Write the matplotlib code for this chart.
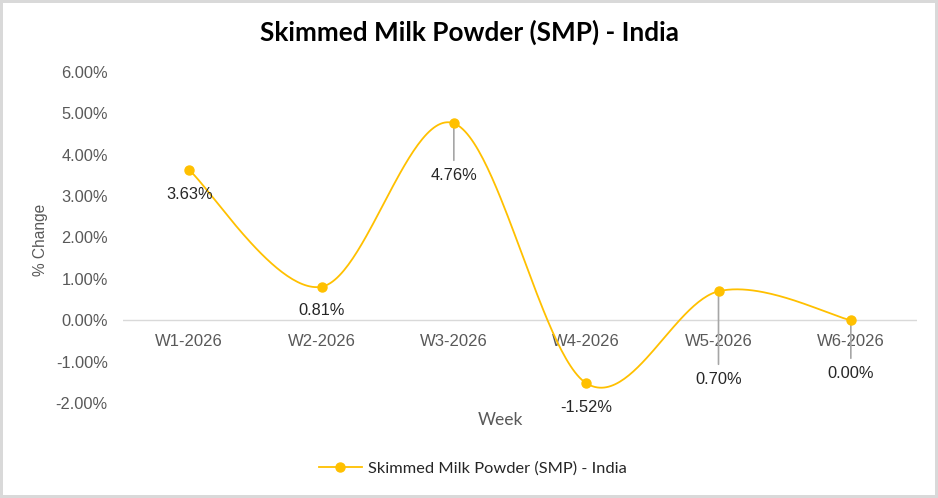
import numpy as np
import matplotlib
matplotlib.use("Agg")
import matplotlib.pyplot as plt
from matplotlib.ticker import FuncFormatter

weeks = ["W1-2026", "W2-2026", "W3-2026", "W4-2026", "W5-2026", "W6-2026"]
change = [3.63, 0.81, 4.76, -1.52, 0.70, 0.00]
series_name = "Skimmed Milk Powder (SMP) - India"
# label offsets below each point (pixels) and whether a leader line is drawn
label_drop = [24, 24, 52, 24, 88, 53]
leader = [False, False, True, False, True, True]

GOLD = "#FFC000"
GRAY = "#595959"


def smooth(x, y, n=60):
    # Catmull-Rom bezier, like Excel's smoothed line
    x = np.asarray(x, float)
    y = np.asarray(y, float)
    px = np.concatenate(([x[0]], x, [x[-1]]))
    py = np.concatenate(([y[0]], y, [y[-1]]))
    xs, ys = [], []
    t = np.linspace(0, 1, n)
    for i in range(1, len(px) - 2):
        p0 = np.array([px[i], py[i]])
        p3 = np.array([px[i + 1], py[i + 1]])
        p1 = p0 + (np.array([px[i + 1], py[i + 1]]) - np.array([px[i - 1], py[i - 1]])) / 6
        p2 = p3 - (np.array([px[i + 2], py[i + 2]]) - np.array([px[i], py[i]])) / 6
        b = ((1 - t) ** 3)[:, None] * p0 + (3 * (1 - t) ** 2 * t)[:, None] * p1 \
            + (3 * (1 - t) * t ** 2)[:, None] * p2 + (t ** 3)[:, None] * p3
        xs.append(b[:, 0])
        ys.append(b[:, 1])
    return np.concatenate(xs), np.concatenate(ys)


fig = plt.figure(figsize=(9.38, 4.98), dpi=100)
fig.patch.set_edgecolor("#d9d9d9")
fig.patch.set_linewidth(3)
ax = fig.add_axes([123 / 938, 1 - 403 / 498, (917 - 123) / 938, (403 - 72) / 498])

xpos = np.arange(len(weeks))
sx, sy = smooth(xpos, change)
ax.plot(sx, sy, color=GOLD, lw=1.3, zorder=3)
ax.plot(xpos, change, "o", color=GOLD, ms=6.5, zorder=4)
ax.plot([], [], "-o", color=GOLD, lw=1.3, ms=6.5, label=series_name)

ax.axhline(0, color="#d9d9d9", lw=1, zorder=1)
ax.set_xlim(-0.5, len(weeks) - 0.5)
ax.set_ylim(-2, 6)
ax.set_yticks(np.arange(-2, 7, 1))
ax.yaxis.set_major_formatter(FuncFormatter(lambda v, p: "{0:.2f}%".format(v)))
for s in ax.spines.values():
    s.set_visible(False)
ax.tick_params(axis="both", length=0, labelsize=11.8, labelcolor=GRAY)
ax.tick_params(axis="y", pad=11)
ax.set_xticks([])
for lab in ax.get_yticklabels():
    lab.set_family("Liberation Sans")

for i, w in enumerate(weeks):
    ax.annotate(w, (i, 0), xytext=(0, -21 * 0.72), textcoords="offset points",
                ha="center", va="center", fontsize=12, color=GRAY,
                family="Liberation Sans", zorder=2)

for i, v in enumerate(change):
    d = label_drop[i] * 0.72
    if leader[i]:
        ax.annotate("", (i, v), xytext=(0, -(d - 15 * 0.72)), textcoords="offset points",
                    arrowprops=dict(arrowstyle="-", color="#a6a6a6", lw=1.2,
                                    shrinkA=0, shrinkB=0), zorder=2)
    ax.annotate("{0:.2f}%".format(v), (i, v), xytext=(0, -d), textcoords="offset points",
                ha="center", va="center", fontsize=11.8, color="#262626",
                family="Liberation Sans", zorder=5)

fig.text(469 / 938, 1 - 32 / 498, series_name, ha="center", va="center",
         fontsize=18.8, fontweight="bold", family="Lato", color="black")
fig.text(40 / 938, 1 - 240 / 498, "% Change", rotation=90, ha="center", va="center",
         fontsize=11.2, color=GRAY, family="Liberation Sans")
fig.text(500 / 938, 1 - 420 / 498, "Week", ha="center", va="center",
         fontsize=12.5, color=GRAY, family="Lato")

leg = fig.legend(loc="center", bbox_to_anchor=(473 / 938, 1 - 468 / 498), frameon=False,
                 prop={"family": "Lato", "size": 11.8}, handlelength=2.6,
                 handletextpad=0.4)
for t in leg.get_texts():
    t.set_color("#262626")

fig.savefig("out.png", dpi=100, edgecolor=fig.get_edgecolor())
